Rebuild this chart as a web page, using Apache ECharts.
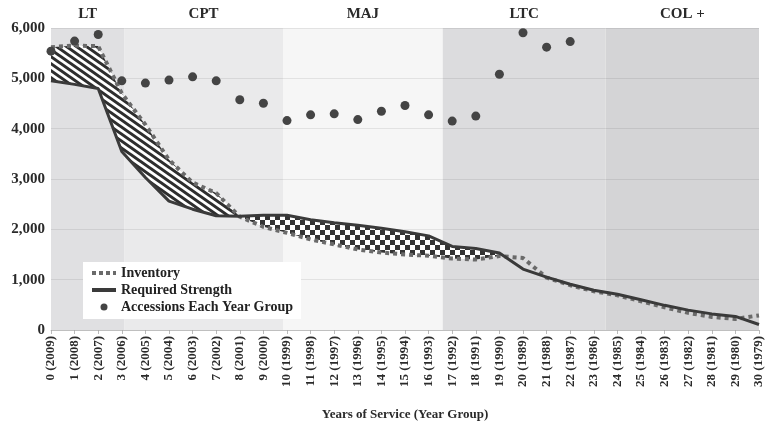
<!DOCTYPE html>
<html>
<head>
<meta charset="utf-8">
<script src="https://cdn.jsdelivr.net/npm/echarts@6/dist/echarts.min.js"></script>
<style>
html,body{margin:0;padding:0;background:#fff}
#main{width:769px;height:426px}
</style>
</head>
<body>
<div id="main"></div>
<script>
var years = ['0 (2009)','1 (2008)','2 (2007)','3 (2006)','4 (2005)','5 (2004)','6 (2003)','7 (2002)',
  '8 (2001)','9 (2000)','10 (1999)','11 (1998)','12 (1997)','13 (1996)','14 (1995)','15 (1994)',
  '16 (1993)','17 (1992)','18 (1991)','19 (1990)','20 (1989)','21 (1988)','22 (1987)','23 (1986)',
  '24 (1985)','25 (1984)','26 (1983)','27 (1982)','28 (1981)','29 (1980)','30 (1979)'];
var inventory = [5620,5650,5640,4700,4080,3380,2930,2720,2250,2050,1930,1800,1700,1600,1540,1500,
  1475,1420,1400,1470,1430,1040,890,770,690,570,450,340,260,220,290];
var required = [4950,4880,4800,3545,3030,2560,2400,2270,2260,2280,2280,2190,2130,2080,2020,1950,
  1870,1660,1620,1530,1210,1050,910,790,710,600,490,395,320,270,110];
var accessions = [5540,5740,5870,4950,4905,4965,5030,4950,4575,4505,4160,4275,4295,4180,4345,4460,
  4275,4150,4250,5080,5905,5620,5730];
var ranks = ['LT','CPT','MAJ','LTC','COL +'];
var rankEdges = [0,3.1,9.83,16.6,23.5,30];
var hatchRange = [0,8];    // inventory above requirement
var checkerRange = [8,19]; // inventory below requirement

var FONT = 'Liberation Serif';
var rankFills = ['#e0e0e2','#eaeaeb','#f6f6f6','#dcdcde','#d4d4d6'];

// downward diagonal stripes, a bit flatter than 45deg
function stripes() {
  var w = 10, h = 7;
  var c = document.createElement('canvas');
  c.width = w; c.height = h;
  var g = c.getContext('2d');
  g.fillStyle = '#fff'; g.fillRect(0,0,w,h);
  g.strokeStyle = '#2e2e2e'; g.lineWidth = 3;
  [-w,0,w].forEach(function(o){
    g.beginPath(); g.moveTo(o-w,-h); g.lineTo(o+2*w,2*h); g.stroke();
  });
  return c;
}
function checker() {
  var c = document.createElement('canvas');
  c.width = c.height = 10;
  var g = c.getContext('2d');
  g.fillStyle = '#fff'; g.fillRect(0,0,10,10);
  g.fillStyle = '#333'; g.fillRect(0,0,5,5); g.fillRect(5,5,5,5);
  return c;
}

function inRange(i, r) { return i >= r[0] && i <= r[1]; }
var hatchBase = inventory.map(function(v,i){ return inRange(i,hatchRange) ? Math.min(v,required[i]) : '-'; });
var hatchBand = inventory.map(function(v,i){ return inRange(i,hatchRange) ? Math.max(v-required[i],0) : '-'; });
var checkerBase = inventory.map(function(v,i){ return inRange(i,checkerRange) ? Math.min(v,required[i]) : '-'; });
var checkerBand = inventory.map(function(v,i){ return inRange(i,checkerRange) ? Math.max(required[i]-v,0) : '-'; });

var areas = ranks.map(function(r,i){
  return [{name:r, xAxis:rankEdges[i], itemStyle:{color:rankFills[i]}}, {xAxis:rankEdges[i+1]}];
});

var chart = echarts.init(document.getElementById('main'));
var option = {
  animation: false,
  grid: {left:51, right:10, top:28, bottom:94},
  legend: {
    orient:'vertical', left:83, top:262, backgroundColor:'#fff',
    padding:[4,8,5,7], itemGap:3, itemWidth:24, itemHeight:7,
    textStyle:{fontFamily:FONT, fontWeight:'bold', fontSize:14, color:'#222'},
    data:[
      {name:'Inventory', itemStyle:{opacity:0}, lineStyle:{width:4, type:[4,3], color:'#6a6a6a'}},
      {name:'Required Strength', itemStyle:{opacity:0}, lineStyle:{width:4, color:'#3a3a3a'}},
      {name:'Accessions Each Year Group'}
    ]
  },
  xAxis: [{
    type:'category', data:years, boundaryGap:false,
    axisLine:{lineStyle:{color:'#d0d0d0'}},
    axisTick:{show:true, length:4, lineStyle:{color:'#bbb'}},
    axisLabel:{rotate:90, interval:0, margin:6, fontFamily:FONT, fontWeight:'bold', fontSize:13, color:'#2a2a2a'},
    name:'Years of Service (Year Group)', nameLocation:'middle', nameGap:78,
    nameTextStyle:{fontFamily:FONT, fontWeight:'bold', fontSize:13, color:'#2a2a2a'}
  }, {
    type:'value', min:0, max:30, show:false
  }],
  yAxis: {
    type:'value', min:0, max:6000, interval:1000, z:2,
    axisLine:{show:false}, axisTick:{show:false},
    axisLabel:{margin:6, fontFamily:FONT, fontWeight:'bold', fontSize:15, color:'#2a2a2a',
      formatter:function(v){ return v.toLocaleString('en-US'); }},
    splitLine:{lineStyle:{color:'rgba(0,0,0,0.08)'}}
  },
  series: [
    {type:'scatter', xAxisIndex:1, data:[[0,0]], symbolSize:0, silent:true,
      markArea:{silent:true, z:1, data:areas,
        label:{show:true, position:'top', distance:6, fontFamily:FONT, fontWeight:'bold', fontSize:15, color:'#2a2a2a'}}},
    {name:'hb', type:'line', stack:'hatch', data:hatchBase, symbol:'none', silent:true, z:3, lineStyle:{opacity:0}},
    {name:'ht', type:'line', stack:'hatch', data:hatchBand, symbol:'none', silent:true, z:3, lineStyle:{opacity:0},
      areaStyle:{opacity:1, color:{image:stripes(), repeat:'repeat'}}},
    {name:'cb', type:'line', stack:'checker', data:checkerBase, symbol:'none', silent:true, z:3, lineStyle:{opacity:0}},
    {name:'ct', type:'line', stack:'checker', data:checkerBand, symbol:'none', silent:true, z:3, lineStyle:{opacity:0},
      areaStyle:{opacity:1, color:{image:checker(), repeat:'repeat'}}},
    {name:'Inventory', type:'line', data:inventory, symbol:'none', z:4,
      itemStyle:{color:'#6a6a6a'}, lineStyle:{color:'#6a6a6a', width:4, type:[4,4]}},
    {name:'Required Strength', type:'line', data:required, symbol:'none', z:5,
      itemStyle:{color:'#3a3a3a'}, lineStyle:{color:'#3a3a3a', width:3}},
    {name:'Accessions Each Year Group', type:'scatter', data:accessions, symbolSize:9, z:6,
      itemStyle:{color:'#444', opacity:1}}
  ]
};
chart.setOption(option);
</script>
</body>
</html>
